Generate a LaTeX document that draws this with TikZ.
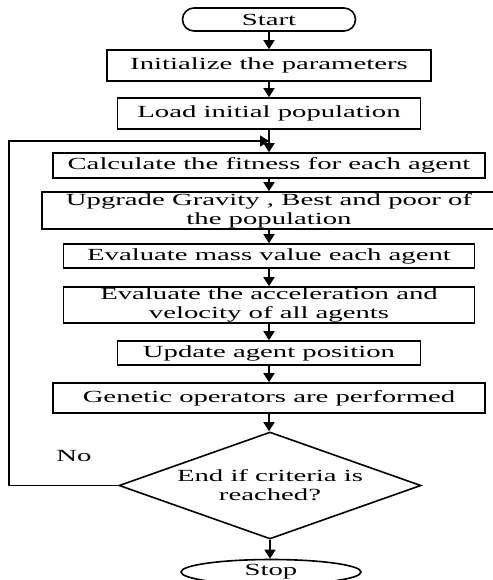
\documentclass[tikz,border=0pt]{standalone}
\usepackage{fontspec}
\setmainfont{Liberation Serif}[FakeStretch=1.69]
\usepackage{tikz}
\usetikzlibrary{arrows.meta,shapes.geometric,shapes.misc}
\tikzset{
  box/.style={draw, line width=1.6pt, inner sep=0pt, align=center, font=\fontsize{17}{19}\selectfont},
  proc/.style={box, rectangle},
  term/.style={box, rounded rectangle},
  halt/.style={box, ellipse},
  test/.style={box, diamond, shape aspect=2.82},
  pre/.style={-{Triangle[length=9pt,width=11pt]}, line width=1.6pt},
  lbl/.style={font=\fontsize{17}{19}\selectfont},
}
\begin{document}
\begin{tikzpicture}[x=1pt,y=-1pt]
\useasboundingbox (0,0) rectangle (492,580);
\node[term, minimum width=173pt, minimum height=23pt] (start) at (269,19.5) {Start};
\node[proc, minimum width=324pt, minimum height=31pt] (init) at (269,65.5) {Initialize the parameters};
\node[proc, minimum width=303pt, minimum height=31pt] (load) at (269,113.5) {Load initial population};
\node[proc, minimum width=432pt, minimum height=25pt] (fit) at (269,165.5) {Calculate the fitness for each agent};
\node[proc, minimum width=454pt, minimum height=37pt] (grav) at (269,210.5) {Upgrade Gravity , Best and poor of\\the population};
\node[proc, minimum width=411pt, minimum height=24pt] (mass) at (269,256) {Evaluate mass value each agent};
\node[proc, minimum width=411pt, minimum height=36pt] (acc) at (269,305) {Evaluate the acceleration and\\velocity of all agents};
\node[proc, minimum width=303pt, minimum height=24pt] (pos) at (269,353) {Update agent position};
\node[proc, minimum width=432pt, minimum height=30pt] (gen) at (269,398) {Genetic operators are performed};
\node[test, minimum width=302pt, minimum height=107pt] (end) at (270,485.5) {End if criteria is\\reached?};
\node[halt, minimum width=180pt, minimum height=25pt] (stop) at (271,572) {Stop};
\node[lbl] (no) at (74,456) {No};
\coordinate (corner) at (9,141);
\coordinate (join) at (269,141);
\draw[pre] (start) -- (init);
\draw[pre] (init) -- (load);
\draw[pre] (load) -- (fit);
\draw[pre] (fit) -- (grav);
\draw[pre] (grav) -- (mass);
\draw[pre] (mass) -- (acc);
\draw[pre] (acc) -- (pos);
\draw[pre] (pos) -- (gen);
\draw[pre] (gen) -- (gen.south |- end.north);
\draw[pre] (end.south) -- (end.south |- stop.north);
\draw[pre] (end.west) -| (corner) -- (join);
\end{tikzpicture}
\end{document}
